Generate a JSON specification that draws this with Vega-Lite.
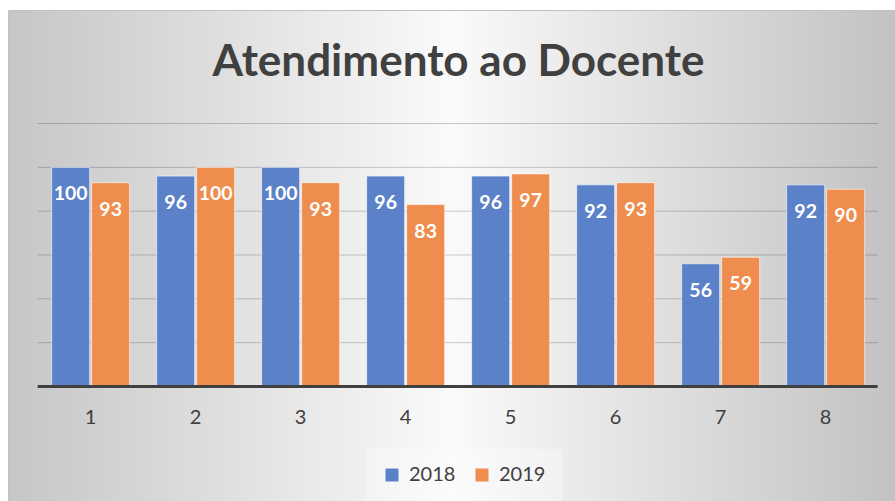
{
  "$schema": "https://vega.github.io/schema/vega-lite/v6.json",
  "width": 887,
  "height": 491,
  "autosize": {"type": "none"},
  "padding": {"left": 8, "top": 10, "right": 0, "bottom": 0},
  "background": "white",
  "config": {
    "view": {
      "fill": {"gradient": "linear", "x1": 0, "y1": 0, "x2": 1, "y2": 0,
        "stops": [{"offset": 0, "color": "#c6c6c6"}, {"offset": 0.5, "color": "#fafafa"}, {"offset": 1, "color": "#c2c2c2"}]},
      "stroke": "#c0c0c0"
    },
    "font": "Lato",
    "axisX": {"title": null, "orient": "bottom", "offset": -114.5, "domain": false, "ticks": false, "grid": false,
      "labelAngle": 0, "labelFontSize": 20, "labelFont": "Lato", "labelColor": "#404040", "labelPadding": 21}
  },
  "title": {
    "text": "Atendimento ao Docente",
    "fontSize": 44,
    "font": "Lato",
    "fontWeight": "bold",
    "color": "#404040",
    "anchor": "middle",
    "frame": "group",
    "orient": "top",
    "baseline": "top",
    "offset": -75,
    "dx": 7
  },
  "datasets": {
    "main": [
      {"c": "1", "year": "2018", "v": 100}, {"c": "1", "year": "2019", "v": 93},
      {"c": "2", "year": "2018", "v": 96}, {"c": "2", "year": "2019", "v": 100},
      {"c": "3", "year": "2018", "v": 100}, {"c": "3", "year": "2019", "v": 93},
      {"c": "4", "year": "2018", "v": 96}, {"c": "4", "year": "2019", "v": 83},
      {"c": "5", "year": "2018", "v": 96}, {"c": "5", "year": "2019", "v": 97},
      {"c": "6", "year": "2018", "v": 92}, {"c": "6", "year": "2019", "v": 93},
      {"c": "7", "year": "2018", "v": 56}, {"c": "7", "year": "2019", "v": 59},
      {"c": "8", "year": "2018", "v": 92}, {"c": "8", "year": "2019", "v": 90}
    ],
    "grid": [{"g": 20}, {"g": 40}, {"g": 60}, {"g": 80}, {"g": 100}, {"g": 120}],
    "base": [{"b": 0}]
  },
  "layer": [
    {
      "data": {"name": "grid"},
      "mark": {"type": "rule", "color": "#000000", "opacity": 0.2, "strokeWidth": 1},
      "encoding": {
        "y": {"field": "g", "type": "quantitative", "axis": null,
          "scale": {"domain": [-52.24, 171.79], "nice": false, "zero": false}},
        "x": {"datum": "1", "type": "nominal", "bandPosition": -0.1795,
          "scale": {"domain": ["1", "2", "3", "4", "5", "6", "7", "8"], "paddingInner": 0.257, "paddingOuter": 0.3523, "align": 0.59}},
        "x2": {"datum": "8", "bandPosition": 1.1667}
      }
    },
    {
      "data": {"name": "main"},
      "mark": {"type": "bar", "stroke": "white", "strokeWidth": 1, "strokeOpacity": 0.6},
      "encoding": {
        "x": {"field": "c", "type": "nominal"},
        "xOffset": {"field": "year", "type": "nominal", "scale": {"paddingInner": 0.05, "paddingOuter": 0}},
        "y": {"field": "v", "type": "quantitative", "axis": null},
        "y2": {"datum": 0},
        "color": {"field": "year", "type": "nominal",
          "scale": {"domain": ["2018", "2019"], "range": ["#5B82C9", "#EE8D4D"]},
          "legend": {"orient": "none", "legendX": 358, "legendY": 439, "direction": "horizontal", "title": null,
            "symbolType": "square", "symbolSize": 169, "symbolOpacity": 1, "symbolStrokeWidth": 0,
            "labelFontSize": 20, "labelColor": "#404040", "labelFont": "Lato", "labelOffset": 7,
            "columnPadding": 16, "padding": 16, "fillColor": "rgba(255,255,255,0.3)"}}
      }
    },
    {
      "data": {"name": "main"},
      "mark": {"type": "text", "color": "white", "fontWeight": "bold", "fontSize": 19.5, "font": "Lato", "baseline": "middle", "dy": 27},
      "encoding": {
        "x": {"field": "c", "type": "nominal"},
        "xOffset": {"field": "year", "type": "nominal"},
        "y": {"field": "v", "type": "quantitative", "axis": null},
        "text": {"field": "v", "type": "quantitative"}
      }
    },
    {
      "data": {"name": "base"},
      "mark": {"type": "rule", "color": "#404040", "strokeWidth": 3},
      "encoding": {
        "y": {"field": "b", "type": "quantitative", "axis": null},
        "x": {"datum": "1", "type": "nominal", "bandPosition": -0.1795},
        "x2": {"datum": "8", "bandPosition": 1.1667}
      }
    }
  ]
}
